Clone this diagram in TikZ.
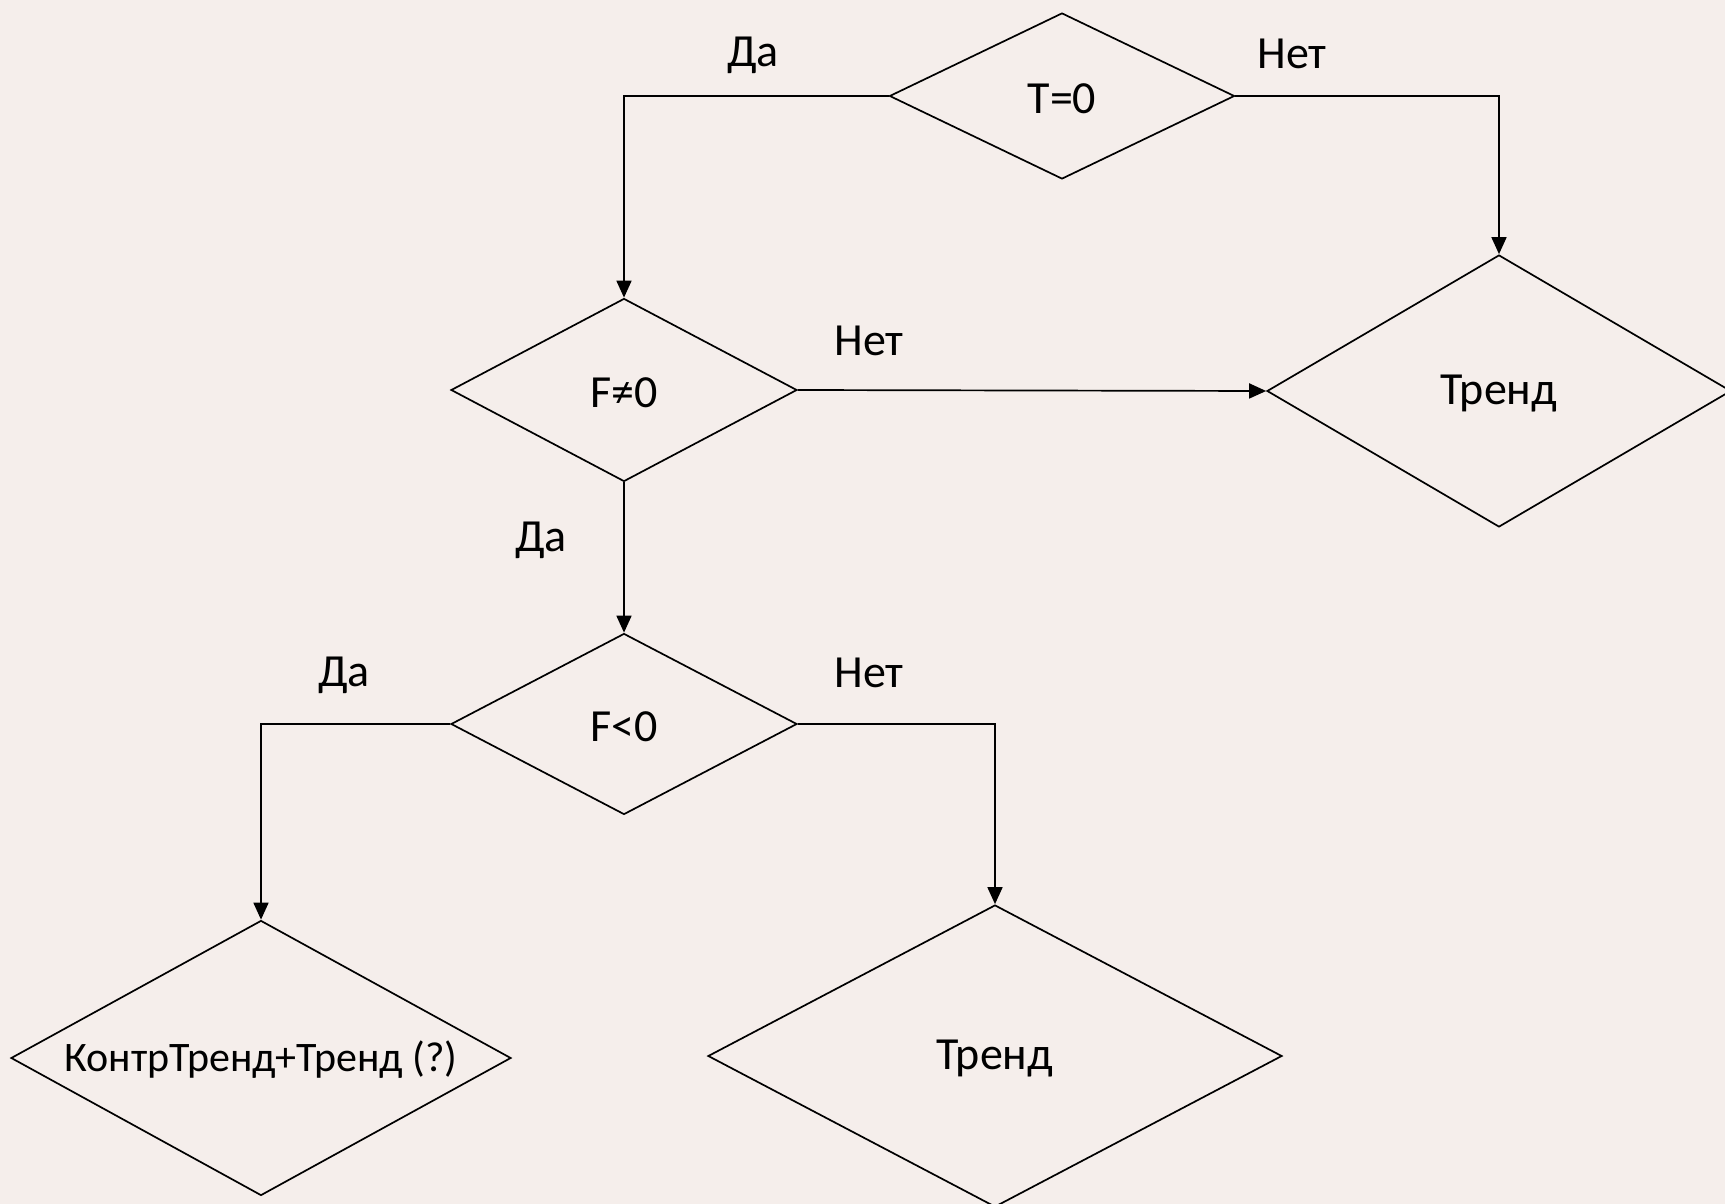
\documentclass[tikz,border=0pt]{standalone}
\usepackage{fontspec}
\setmainfont{Carlito}
\usetikzlibrary{shapes.geometric,arrows.meta}
\definecolor{paper}{RGB}{245,238,235}
\tikzset{
  decision/.style={shape=diamond, draw=black, line width=1.7pt, inner sep=0pt,
    minimum width=#1},
  flow/.style={line width=1.7pt, -{Triangle[length=17pt,width=15pt]}},
  lbl/.style={font=\fontsize{46}{50}\selectfont},
  small/.style={font=\fontsize{42}{46}\selectfont},
}
\begin{document}
\begin{tikzpicture}[x=1pt,y=-1pt]
  \fill[paper] (0,0) rectangle (1725,1204);
  \useasboundingbox (0,0) rectangle (1725,1204);

  % decisions
  \node[decision=345pt, minimum height=166pt, label={[lbl,yshift=-3pt]center:T=0}] (t0) at (1062,96) {};
  \node[decision=346pt, minimum height=183pt, label={[lbl,yshift=-3pt]center:F≠0}] (fne) at (624,390) {};
  \node[decision=346pt, minimum height=181pt, label={[lbl,yshift=-3pt]center:F<0}] (flt) at (624,724) {};
  \node[decision=464pt, minimum height=272pt, label={[lbl,yshift=-3pt]center:Тренд}] (tr1) at (1499,391) {};
  \node[decision=500pt, minimum height=275pt, label={[small,yshift=-2pt]center:КонтрТренд+Тренд (?)}] (ktr) at (261,1058) {};
  \node[decision=574pt, minimum height=302pt, label={[lbl,yshift=-3pt]center:Тренд}] (tr2) at (995,1056) {};

  % connectors
  \draw[flow] (t0.west) -| (fne.north);
  \draw[flow] (t0.east) -| (tr1.north);
  \draw[flow] (fne.east) -- (tr1.west);
  \draw[flow] (fne.south) -- (flt.north);
  \draw[flow] (flt.west) -| (ktr.north);
  \draw[flow] (flt.east) -| (tr2.north);

  % branch labels
  \node[lbl] (l1) at (753,55) {Да};
  \node[lbl] (l2) at (1292,54) {Нет};
  \node[lbl] (l3) at (869,341) {Нет};
  \node[lbl] (l4) at (541,540) {Да};
  \node[lbl] (l5) at (344,675) {Да};
  \node[lbl] (l6) at (869,673) {Нет};
\end{tikzpicture}
\end{document}
